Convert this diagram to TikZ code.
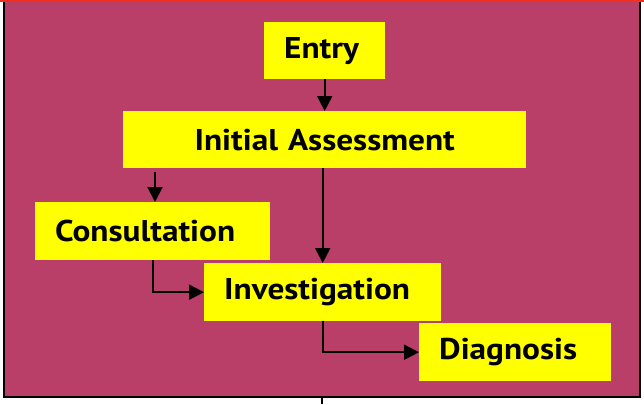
\documentclass[tikz,border=0pt]{standalone}
\usepackage{fontspec}
\setmainfont{PT Sans}[FakeStretch=1.11]
\usetikzlibrary{arrows.meta}
\definecolor{panelfill}{RGB}{185,62,104}
\definecolor{topedge}{RGB}{240,48,28}
\definecolor{boxyellow}{RGB}{255,255,0}
\tikzset{
  stepbox/.style={fill=boxyellow, anchor=north west, inner ysep=0pt, inner xsep=20pt,
    font=\fontsize{30}{32}\selectfont\bfseries, align=left},
  flow/.style={line width=2pt, -{Triangle[length=15pt,width=15pt]}},
}
\begin{document}
\begin{tikzpicture}[x=1pt,y=-1pt]
  \useasboundingbox (0,0) rectangle (644,404);
  % panel
  \fill[white] (0,0) rectangle (644,404);
  \draw[line width=2pt, fill=panelfill] (4,1) rectangle (640,397);
  \fill[topedge] (0,0) rectangle (644,2.5);

  % boxes (top-left corner, width, height)
  \node[stepbox, minimum height=57pt, text width=81pt]  (entry) at (264,22)  {Entry};
  \node[stepbox, minimum height=57pt, text width=363pt, align=center] (init) at (123,111) {Initial Assessment};
  \node[stepbox, minimum height=58pt, text width=195pt] (cons) at (35,202)  {Consultation};
  \node[stepbox, minimum height=58pt, text width=197pt] (inv)  at (204,263) {Investigation};
  \node[stepbox, minimum height=58pt, text width=152pt] (diag) at (419,323) {Diagnosis};

  % connectors
  \draw[flow] (entry.south) -- (init.north);
  \draw[flow, shorten <=4pt] (init.south west) ++(32,0) coordinate (ic) -- (ic |- cons.north);
  \draw[flow] (inv.north |- init.south) -- (inv.north);
  \draw[flow] (cons.south) |- (inv.west);
  \draw[flow] (inv.south) |- (diag.west);

  % lead-out below the panel
  \coordinate (outtop) at (322,397);
  \coordinate (outend) at (322,404);
  \draw[line width=2pt] (outtop) -- (outend);
\end{tikzpicture}
\end{document}
